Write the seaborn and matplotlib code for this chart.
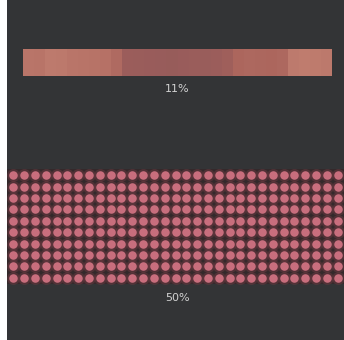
import numpy as np
import pandas as pd
import matplotlib
matplotlib.use("Agg")
import matplotlib.pyplot as plt
from matplotlib.colors import LinearSegmentedColormap
import seaborn as sns

# ---- data ----
pct_labels = ["11%", "50%"]
strip_values = [0.80, 0.78, 0.88, 0.86, 0.80, 0.78, 0.76, 0.74, 0.62,
                0.30, 0.28, 0.26, 0.25, 0.24, 0.26, 0.28, 0.27, 0.30, 0.35,
                0.55, 0.58, 0.56, 0.55, 0.58,
                0.88, 0.92, 0.90, 0.86]
grid_rows = 10
grid_cols = 31

BG = "#333436"
TXT = "#d2d2d2"

sns.set_theme(style="white")
plt.rcParams['font.family'] = ['DejaVu Sans']

fig = plt.figure(figsize=(3.44, 3.40), dpi=100, facecolor="white")
W, H = 344.0, 340.0

bg = fig.add_axes([7 / W, 0, 337 / W, 1])
bg.set_facecolor(BG)
bg.set_xticks([]); bg.set_yticks([])
for s in bg.spines.values():
    s.set_visible(False)

# ---- top strip (heatmap) ----
cmap = LinearSegmentedColormap.from_list("strip", ["#87555A", "#A9635B", "#C38172"])
ax1 = fig.add_axes([23 / W, 1 - 76 / H, 309 / W, 27 / H])
sns.heatmap(pd.DataFrame([strip_values]), ax=ax1, cmap=cmap, vmin=0, vmax=1,
            cbar=False, xticklabels=False, yticklabels=False, linewidths=0)
ax1.set_xlabel(""); ax1.set_ylabel("")
fig.text(177 / W, 1 - 89 / H, pct_labels[0], color=TXT, fontsize=8,
         ha="center", va="center")

# ---- bottom dot grid ----
ax2 = fig.add_axes([7 / W, 1 - 284 / H, 337 / W, 115 / H])
ax2.set_facecolor("#34292b")
xx, yy = np.meshgrid(np.arange(grid_cols), np.arange(grid_rows))
dots = pd.DataFrame({"x": xx.ravel(), "y": yy.ravel()})
sns.scatterplot(data=dots, x="x", y="y", ax=ax2, s=85, color="#6e3a42",
                alpha=0.5, linewidth=0, legend=False)
sns.scatterplot(data=dots, x="x", y="y", ax=ax2, s=38, color="#c86e7d",
                linewidth=0, legend=False)
ax2.set_xlim(-0.6, grid_cols - 0.4)
ax2.set_ylim(-0.55, grid_rows - 0.45)
ax2.set_xlabel(""); ax2.set_ylabel("")
ax2.set_xticks([]); ax2.set_yticks([])
for s in ax2.spines.values():
    s.set_visible(False)
fig.text(177 / W, 1 - 298 / H, pct_labels[1], color=TXT, fontsize=8,
         ha="center", va="center")

fig.savefig("out.png", dpi=100, facecolor="white")
